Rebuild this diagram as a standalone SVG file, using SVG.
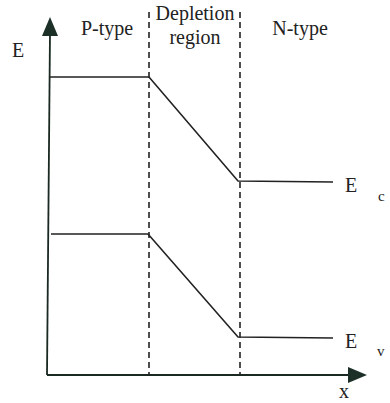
<svg xmlns="http://www.w3.org/2000/svg" width="390" height="403" viewBox="0 0 390 403">
<style>
.t{font-family:"Liberation Serif","Times New Roman",serif;font-size:20px;fill:#222}
.s{font-family:"Liberation Serif","Times New Roman",serif;font-size:15px;fill:#222}
.ln{stroke:#222;stroke-width:1.6;fill:none}
.ax{stroke:#1a2a22;stroke-width:1.8;fill:none}
.d{stroke:#222;stroke-width:1.6;stroke-dasharray:6,4;fill:none}
.hd{fill:#1c3028}
</style>
<g id="axes">
<path class="ax" d="M47,375 L50,32"/>
<polygon class="hd" points="50,17 42,36 58,36"/>
<path class="ax" d="M47,375 L350,375"/>
<polygon class="hd" points="367,375 348,367 348,383"/>
</g>
<g id="boundaries">
<path class="d" d="M149,12 L149,375"/>
<path class="d" d="M240,12 L240,375"/>
</g>
<g id="connectors">
<path id="Ec" class="ln" d="M50,77 L149,77 L238,181 L333,182"/>
<path id="Ev" class="ln" d="M51,234 L148,234 L238,337 L333,338"/>
</g>
<g id="labels">
<text class="t" x="12" y="57">E</text>
<text class="t" x="107" y="35" text-anchor="middle">P-type</text>
<text class="t" x="195" y="20" text-anchor="middle">Depletion</text>
<text class="t" x="195" y="44" text-anchor="middle">region</text>
<text class="t" x="300" y="35" text-anchor="middle">N-type</text>
<text class="t" x="345" y="192">E</text>
<text class="s" x="378" y="201">c</text>
<text class="t" x="345" y="348">E</text>
<text class="s" x="377" y="356">v</text>
<text class="t" x="339" y="398">x</text>
</g>
</svg>
